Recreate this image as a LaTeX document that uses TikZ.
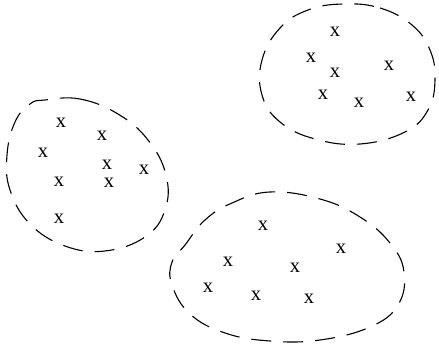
\documentclass[tikz,border=0pt]{standalone}
\usepackage{fontspec}
\setmainfont{Liberation Serif}
\usetikzlibrary{calc}

\begin{document}
\begin{tikzpicture}[x=1pt,y=-1pt,
    grp/.style={line width=1.1pt,dash pattern=on 20pt off 12pt,smooth cycle,tension=0.7},
    pt/.style={inner sep=0pt,font=\fontsize{20.5}{24}\selectfont}]
          \useasboundingbox (0,0) rectangle (439,347);

          % Groupe gauche
          \draw[grp] plot coordinates {(45,100) (80,99) (118,114) (148,140) (166,175)
            (165,210) (145,237) (105,251) (65,246) (30,224) (10,190) (7,155) (15,122) (30,104)};
          \foreach \px/\py [count=\i] in {61/123, 102/136, 43/153, 107/165,
            144/170, 59/182, 109/183, 59/219} {
            \node[pt] (g\i) at (\px,\py) {x};
          }

          % Groupe haut droite
          \draw[grp] plot coordinates {(343,4) (380,8) (412,25) (430,50) (435,80)
            (428,110) (405,132) (360,144) (315,139) (280,122) (262,95) (262,60) (280,28) (308,10)};
          \foreach \px/\py [count=\i] in {335/32, 311/58, 335/73, 389/66,
            323/95, 359/103, 411/97} {
            \node[pt] (h\i) at (\px,\py) {x};
          }

          % Groupe bas
          \draw[grp] plot coordinates {(270,192) (320,199) (360,217) (390,243) (404,272)
            (398,305) (370,327) (320,340) (270,341) (225,333) (190,314) (172,285)
            (172,262) (185,245) (205,220) (232,203)};
          \foreach \px/\py [count=\i] in {263/226, 341/249, 228/262, 295/268,
            208/288, 256/296, 309/299} {
            \node[pt] (b\i) at (\px,\py) {x};
          }

        \end{tikzpicture}
\end{document}
